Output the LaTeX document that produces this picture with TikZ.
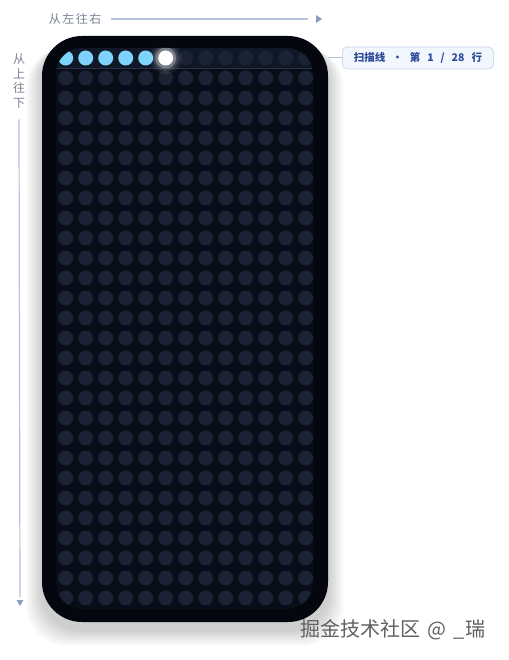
\documentclass[tikz,border=0pt]{standalone}
\usepackage{fontspec}
\newfontfamily\cjk{Noto Sans CJK SC}
\usetikzlibrary{positioning}

\definecolor{bezel}{HTML}{04070D}
\definecolor{screen}{HTML}{080D17}
\definecolor{dotoff}{HTML}{1A2233}
\definecolor{doton}{HTML}{7DD3FC}
\definecolor{stripe}{HTML}{101828}
\definecolor{stripeline}{HTML}{27334B}
\definecolor{guidecol}{HTML}{B6C2DA}
\definecolor{tipcol}{HTML}{8E9CC2}
\definecolor{hintcol}{HTML}{7A8394}
\definecolor{tagfill}{HTML}{F2F6FD}
\definecolor{tagdraw}{HTML}{CBD8EE}
\definecolor{tagtext}{HTML}{2B4A98}

\begin{document}
\begin{tikzpicture}[x=1pt, y=-1pt,
    hint/.style={font=\cjk\fontsize{12}{14.5}\selectfont, text=hintcol, inner sep=0pt},
    guide/.style={draw=guidecol, line width=1.2pt},
    tiptri/.style={fill=tipcol},
    led/.style={circle, inner sep=0pt, minimum size=15pt},
    scantag/.style={draw=tagdraw, fill=tagfill, rounded corners=5pt, line width=0.8pt,
      minimum width=151pt, minimum height=22pt, inner sep=0pt, text=tagtext,
      font=\cjk\bfseries\fontsize{10.5}{12}\selectfont}]
  \useasboundingbox[fill=white] (0,0) rectangle (508,660);

  % soft shadow under the panel
  \foreach \k in {1,...,16}
    \fill[black, opacity=0.013, rounded corners=40pt]
      ({42-\k},{40+0.5*\k}) rectangle ({328+\k},{630+\k});

  \node[fill=bezel, rounded corners=40pt, minimum width=286pt, minimum height=586pt,
    inner sep=0pt] (panel) at (185,329) {};

  \begin{scope}
    \clip[rounded corners=26pt] (56,48) rectangle (313,609);
    \fill[screen] (56,48) rectangle (313,609);
    \fill[stripe] (56,48) rectangle (313,68);
    \draw[stripeline, line width=0.8pt] (56,68) -- (313,68);
    \foreach \r in {0,...,27}
      \foreach \c in {0,...,12}
        \node[led, fill=dotoff] (d\r-\c) at ({65.7+20*\c},{58+20*\r}) {};
    \foreach \c in {0,...,4}
      \node[led, fill=doton] (lit\c) at ({65.7+20*\c},58) {};
    \foreach \rr/\op in {16/0.07, 13/0.14, 10.5/0.3}
      \fill[white, opacity=\op] (165.7,58) circle[radius=\rr pt];
    \node[led, fill=white] (head) at (165.7,58) {};
  \end{scope}

  % scan label
  \coordinate (tagpin) at (328,58);
  \node[scantag, right=14pt of tagpin] (tag)
    {扫描线\hspace{7pt}·\hspace{7pt}第\hspace{7pt}1\hspace{7pt}/\hspace{7pt}28\hspace{7pt}行};
  \draw[guidecol, line width=1pt] (tagpin) -- (tag);

  % directions
  \node[hint] (ltr) at (75,19) {从\hspace{1.5pt}左\hspace{1.5pt}往\hspace{1.5pt}右};
  \coordinate (ltrend) at (308,19);
  \draw[guide] ([xshift=10pt]ltr.east) -- (ltrend);
  \fill[tiptri] (316,15) -- (322,19) -- (316,23) -- cycle;

  \node[hint, align=center] (ttb) at (19,81) {从\\上\\往\\下};
  \coordinate (ttbend) at (20,597);
  \draw[guide] ([yshift=-11pt]ttb.south) -- (ttbend);
  \fill[tiptri] (16.5,600) -- (23.5,600) -- (20,606) -- cycle;

  \node[font=\cjk\fontsize{20}{22}\selectfont, text=gray!75!black] (mark) at (393,630)
    {掘金技术社区\hspace{7pt}@\hspace{7pt}\_瑞};
\end{tikzpicture}
\end{document}
